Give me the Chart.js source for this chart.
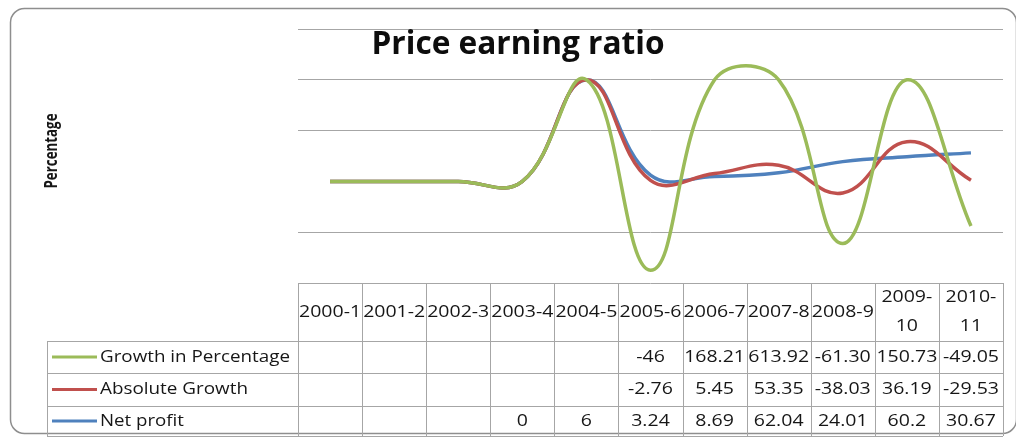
<!DOCTYPE html>
<html>
<head>
<meta charset="utf-8">
<script src="https://cdn.jsdelivr.net/npm/chart.js@4.4.1/dist/chart.umd.min.js"></script>
<style>
  html, body { margin: 0; padding: 0; background: #fff; }
  canvas { display: block; }
</style>
</head>
<body>
<canvas id="myChart" width="1016" height="439"></canvas>
<script>
let ctx = document.getElementById("myChart").getContext("2d");

let labels = ["2000-1", "2001-2", "2002-3", "2003-4", "2004-5", "2005-6",
  "2006-7", "2007-8", "2008-9", "2009-10", "2010-11"];
// header text as shown in the table (long ones wrap)
let headerLines = [["2000-1"], ["2001-2"], ["2002-3"], ["2003-4"], ["2004-5"], ["2005-6"],
  ["2006-7"], ["2007-8"], ["2008-9"], ["2009-", "10"], ["2010-", "11"]];

let growthPct = [null, null, null, null, null, -46, 168.21, 613.92, -61.30, 150.73, -49.05];
let absGrowth = [null, null, null, null, null, -2.76, 5.45, 53.35, -38.03, 36.19, -29.53];
let netProfit = [null, null, null, 0, 6, 3.24, 8.69, 62.04, 24.01, 60.2, 30.67];
// cell text, as typed in the sheet
let growthText = ["", "", "", "", "", "-46", "168.21", "613.92", "-61.30", "150.73", "-49.05"];
let absText = ["", "", "", "", "", "-2.76", "5.45", "53.35", "-38.03", "36.19", "-29.53"];
let netText = ["", "", "", "0", "6", "3.24", "8.69", "62.04", "24.01", "60.2", "30.67"];

let seriesNames = ["Growth in Percentage", "Absolute Growth", "Net profit"];
let colors = ["#9BBB59", "#C0504D", "#4F81BD"];

// 100% stacked: net profit at the base, then absolute growth, then growth %
function stack100(base, mid, top) {
  let out = [[], [], []];
  for (let i = 0; i < base.length; i++) {
    let b = base[i] || 0, m = mid[i] || 0, t = top[i] || 0;
    let total = Math.abs(b) + Math.abs(m) + Math.abs(t);
    if (total === 0) {
      out[0].push(0); out[1].push(0); out[2].push(0);
      continue;
    }
    out[0].push((b / total) * 100);
    out[1].push(((b + m) / total) * 100);
    out[2].push(((b + m + t) / total) * 100);
  }
  return out;
}
let stacked = stack100(netProfit, absGrowth, growthPct);

// text squeezed/stretched horizontally
function drawText(c, s, x, y, font, sx, align) {
  c.save();
  c.font = font;
  c.translate(x, y);
  c.scale(sx, 1);
  c.textAlign = align || "center";
  c.textBaseline = "middle";
  c.fillText(s, 0, 0);
  c.restore();
}

const tableFont = '500 16px "Open Sans"';
const lineColor = "#a6a6a6";
const textColor = "#161616";

let decorations = {
  id: "decorations",
  afterDraw(chart) {
    let c = chart.ctx;
    let area = chart.chartArea;
    let xs = chart.scales.x;

    // outer frame
    c.save();
    c.strokeStyle = "#8e8e8e";
    c.lineWidth = 1.5;
    c.beginPath();
    c.roundRect(10.5, 8.5, 1006, 425, 14);
    c.stroke();
    c.restore();

    // title
    c.save();
    c.font = 'bold 33px "Open Sans"';
    let tw = c.measureText("Price earning ratio").width;
    c.restore();
    c.fillStyle = "#0d0d0d";
    drawText(c, "Price earning ratio", 518, 45, 'bold 33px "Open Sans"', 293 / tw, "center");

    // y title
    c.save();
    c.font = 'bold 18px "Open Sans"';
    let yw = c.measureText("Percentage").width;
    c.translate(52, 151);
    c.rotate(-Math.PI / 2);
    c.scale(75 / yw, 1);
    c.textAlign = "center";
    c.textBaseline = "middle";
    c.fillStyle = textColor;
    c.fillText("Percentage", 0, 0);
    c.restore();

    // data table
    let rowTops = [area.bottom, 341, 373, 406, 436];
    let colW = (area.right - area.left) / labels.length;
    let legendLeft = 47;

    c.save();
    c.strokeStyle = lineColor;
    c.lineWidth = 1;
    c.beginPath();
    // horizontal rules
    c.moveTo(area.left, Math.round(rowTops[0]) + 0.5);
    c.lineTo(area.right, Math.round(rowTops[0]) + 0.5);
    for (let r = 1; r < rowTops.length; r++) {
      c.moveTo(legendLeft, rowTops[r] + 0.5);
      c.lineTo(area.right, rowTops[r] + 0.5);
    }
    // vertical rules
    for (let k = 0; k <= labels.length; k++) {
      let x = Math.round(area.left + k * colW) + 0.5;
      c.moveTo(x, rowTops[0]);
      c.lineTo(x, rowTops[4]);
    }
    c.moveTo(legendLeft + 0.5, rowTops[1]);
    c.lineTo(legendLeft + 0.5, rowTops[4]);
    c.stroke();
    c.restore();

    c.save();
    c.font = tableFont;
    let sx = 62 / c.measureText("2000-1").width;
    c.restore();
    c.fillStyle = textColor;

    let headMid = (rowTops[0] + rowTops[1]) / 2;
    labels.forEach((lab, i) => {
      let x = xs.getPixelForValue(i);
      let lines = headerLines[i];
      if (lines.length === 1) {
        drawText(c, lines[0], x, headMid, tableFont, sx);
      } else {
        drawText(c, lines[0], x, headMid - 15, tableFont, sx);
        drawText(c, lines[1], x, headMid + 14, tableFont, sx);
      }
    });

    let rowsText = [growthText, absText, netText];
    let legendWidths = [190, 148, 84];
    rowsText.forEach((row, r) => {
      let mid = (rowTops[r + 1] + rowTops[r + 2]) / 2;
      // legend key
      c.save();
      c.strokeStyle = colors[r];
      c.lineWidth = 3;
      c.beginPath();
      c.moveTo(52, mid);
      c.lineTo(97, mid);
      c.stroke();
      c.font = tableFont;
      let nw = c.measureText(seriesNames[r]).width;
      c.restore();
      c.fillStyle = textColor;
      drawText(c, seriesNames[r], 100, mid, tableFont, legendWidths[r] / nw, "left");
      row.forEach((s, i) => {
        if (s === "") return;
        drawText(c, s, xs.getPixelForValue(i), mid, tableFont, sx);
      });
    });
  },
};

let myChart = new Chart(ctx, {
  type: "line",
  data: {
    labels: labels,
    datasets: [
      { label: seriesNames[0], data: stacked[2], borderColor: colors[0] },
      { label: seriesNames[1], data: stacked[1], borderColor: colors[1] },
      { label: seriesNames[2], data: stacked[0], borderColor: colors[2] },
    ],
  },
  options: {
    responsive: false,
    animation: false,
    layout: { padding: { left: 298, right: 13, top: 29, bottom: 156 } },
    elements: {
      line: { borderWidth: 3.5, tension: 0.42, capBezierPoints: false, fill: false },
      point: { radius: 0 },
    },
    scales: {
      x: { display: false, offset: true },
      y: {
        min: -100,
        max: 150,
        ticks: { display: false, stepSize: 50 },
        border: { display: false },
        grid: {
          drawTicks: false,
          color: (c) => (c.tick.value === 0 || c.tick.value === -100 ? "rgba(0,0,0,0)" : lineColor),
        },
        afterFit: (scale) => {
          scale.width = 0;
        },
      },
    },
    plugins: {
      legend: { display: false },
      tooltip: { enabled: false },
    },
  },
  plugins: [decorations],
});
</script>
</body>
</html>
